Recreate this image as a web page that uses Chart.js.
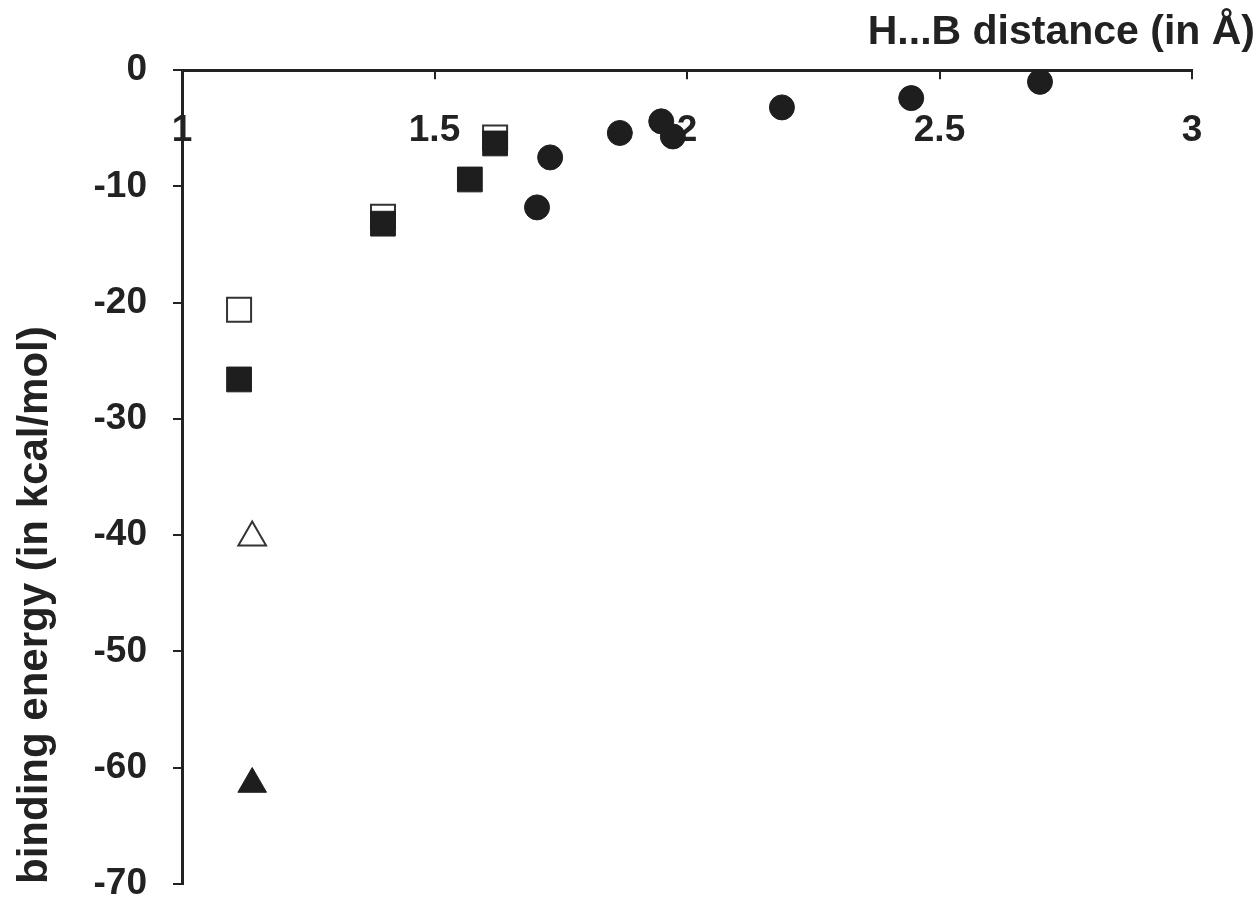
<!DOCTYPE html>
<html>
<head>
<meta charset="utf-8">
<script src="https://cdn.jsdelivr.net/npm/chart.js@4.4.1/dist/chart.umd.min.js"></script>
<style>
  html, body { margin: 0; padding: 0; background: #ffffff; }
  #wrap { width: 1260px; height: 903px; }
</style>
</head>
<body>
<div id="wrap"><canvas id="c" width="1260" height="903"></canvas></div>
<script>
// ---- Data ----
const xTicks = [1, 1.5, 2, 2.5, 3];
const xTickLabels = ['1', '1.5', '2', '2.5', '3'];
const yTicks = [-70, -60, -50, -40, -30, -20, -10, 0];
const yTickLabels = ['-70', '-60', '-50', '-40', '-30', '-20', '-10', '0'];

const xTitle = 'H...B distance (in Å)';
const yTitle = 'binding energy (in kcal/mol)';

const circleX = [1.703, 1.729, 1.867, 1.949, 1.972, 2.188, 2.444, 2.699];
const circleY = [-11.8, -7.5, -5.4, -4.4, -5.7, -3.2, -2.4, -1.0];

const filledSquareX = [1.113, 1.398, 1.570, 1.620];
const filledSquareY = [-26.6, -13.2, -9.4, -6.3];

const openSquareX = [1.113, 1.398, 1.620];
const openSquareY = [-20.6, -12.6, -5.8];

const openTriangleX = [1.139];
const openTriangleY = [-40.2];

const filledTriangleX = [1.139];
const filledTriangleY = [-61.4];

// ---- helpers ----
const pts = (xs, ys) => xs.map((x, i) => ({ x: x, y: ys[i] }));
const INK = '#1e1e1e';
const TEXT = '#222222';
const FONT = "'Liberation Sans', Arial, sans-serif";

new Chart(document.getElementById('c'), {
  type: 'scatter',
  data: {
    datasets: [
      { label: 'filled squares', data: pts(filledSquareX, filledSquareY), pointStyle: 'rect',
        pointRadius: 17.5, backgroundColor: INK, borderColor: INK, borderWidth: 1 },
      { label: 'open squares', data: pts(openSquareX, openSquareY), pointStyle: 'rect',
        pointRadius: 17, backgroundColor: '#ffffff', borderColor: '#333333', borderWidth: 2 },
      { label: 'circles', data: pts(circleX, circleY), pointStyle: 'circle',
        pointRadius: 12.5, backgroundColor: INK, borderColor: INK, borderWidth: 1 },
      { label: 'open triangle', data: pts(openTriangleX, openTriangleY), pointStyle: 'triangle',
        pointRadius: 16, backgroundColor: '#ffffff', borderColor: '#333333', borderWidth: 2 },
      { label: 'filled triangle', data: pts(filledTriangleX, filledTriangleY), pointStyle: 'triangle',
        pointRadius: 16.5, backgroundColor: INK, borderColor: INK, borderWidth: 1 }
    ]
  },
  options: {
    responsive: false,
    animation: false,
    devicePixelRatio: 1,
    layout: { padding: { left: 0, right: 5, top: 0, bottom: 16 } },
    plugins: {
      legend: { display: false },
      tooltip: { enabled: false },
      title: {
        display: true, text: xTitle, align: 'end', color: TEXT,
        font: { family: FONT, size: 41, weight: 'bold', lineHeight: 1.2 },
        padding: { top: 8, bottom: 0 }
      }
    },
    scales: {
      x: {
        type: 'linear', position: 'top', min: 1, max: 3,
        afterBuildTicks: (s) => { s.ticks = xTicks.map(v => ({ value: v })); },
        afterFit: (s) => { s.height = 70 - 57; s.paddingLeft = 0; s.paddingRight = 0; },
        grid: { display: true, drawOnChartArea: false, drawTicks: true, tickLength: -9,
                color: TEXT, lineWidth: 2 },
        border: { display: true, color: TEXT, width: 3 },
        ticks: {
          autoSkip: false, maxRotation: 0, mirror: true, padding: 38, color: TEXT,
          font: { family: FONT, size: 37, weight: 'bold' },
          callback: (v) => xTickLabels[xTicks.indexOf(v)]
        }
      },
      y: {
        type: 'linear', position: 'left', min: -70, max: 0,
        afterBuildTicks: (s) => { s.ticks = yTicks.map(v => ({ value: v })); },
        afterFit: (s) => { s.width = 182; s.paddingTop = 0; s.paddingBottom = 0; },
        grid: { display: true, drawOnChartArea: false, drawTicks: true, tickLength: 9,
                color: TEXT, lineWidth: 2 },
        border: { display: true, color: TEXT, width: 3 },
        ticks: {
          autoSkip: false, padding: 26, color: TEXT,
          font: { family: FONT, size: 37, weight: 'bold' },
          callback: (v) => yTickLabels[yTicks.indexOf(v)]
        },
        title: {
          display: true, text: yTitle, align: 'start', color: TEXT,
          font: { family: FONT, size: 42, weight: 'bold', lineHeight: 1.2 },
          padding: { top: 10, bottom: 0 }
        }
      },
      pad: {
        type: 'linear', position: 'right', display: true,
        grid: { display: false }, border: { display: false }, ticks: { display: false },
        afterFit: (s) => { s.width = 63; s.paddingTop = 0; s.paddingBottom = 0; }
      }
    }
  }
});
</script>
</body>
</html>
